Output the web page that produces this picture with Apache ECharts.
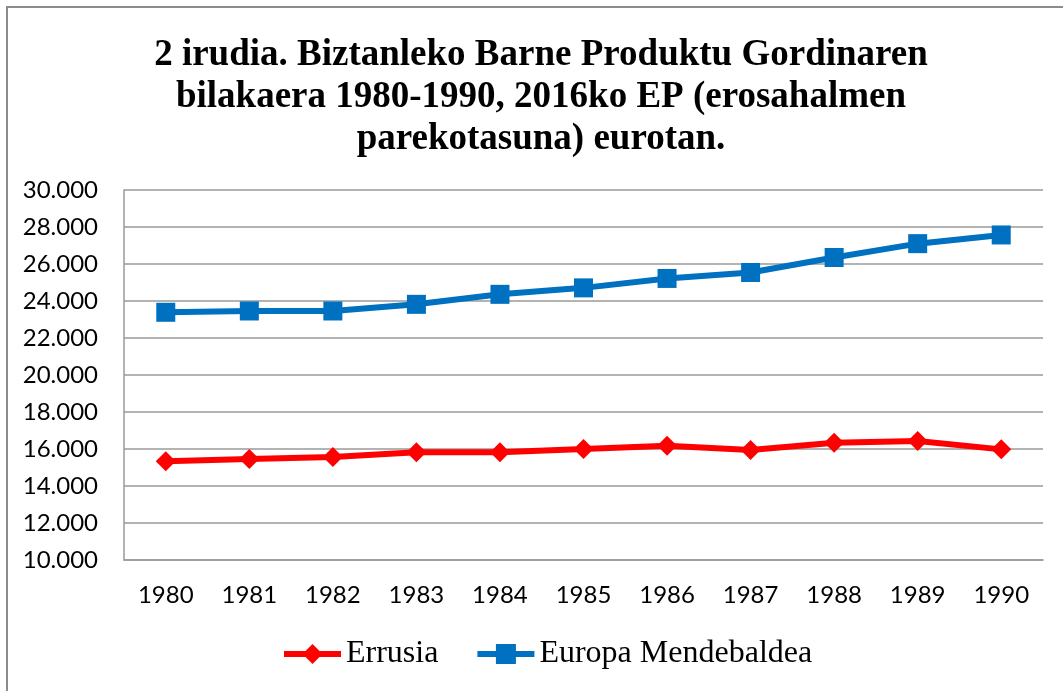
<!DOCTYPE html>
<html>
<head>
<meta charset="utf-8">
<script src="https://cdn.jsdelivr.net/npm/echarts@6/dist/echarts.min.js"></script>
<style>
html,body{margin:0;padding:0;background:#fff;}
#chart{width:1063px;height:691px;}
</style>
</head>
<body>
<div id="chart"></div>
<script>
const titleLines = [
  '2 irudia. Biztanleko Barne Produktu Gordinaren',
  'bilakaera 1980-1990, 2016ko EP (erosahalmen',
  'parekotasuna) eurotan.'
];
const years = ['1980','1981','1982','1983','1984','1985','1986','1987','1988','1989','1990'];
const errusia = [15340, 15460, 15570, 15820, 15820, 16000, 16180, 15950, 16340, 16430, 15980];
const europaMendebaldea = [23390, 23460, 23460, 23820, 24360, 24710, 25220, 25540, 26350, 27100, 27570];
const yTicks = { min: 10000, max: 30000, step: 2000 };

function fmt(v) {
  const th = Math.floor(v / 1000);
  const rest = String(Math.round(v % 1000)).padStart(3, '0');
  return th + '.' + rest;
}

const chart = echarts.init(document.getElementById('chart'), null, { renderer: 'canvas' });
chart.setOption({
  animation: false,
  backgroundColor: '#ffffff',
  graphic: [
    {
      type: 'rect',
      shape: { x: 7, y: 7, width: 1200, height: 800 },
      style: { fill: 'none', stroke: '#8c8c8c', lineWidth: 2 },
      silent: true
    },
    {
      type: 'text',
      x: 541,
      y: 97,
      style: {
        text: titleLines.join('\n'),
        font: 'bold 37px "Liberation Serif", "Times New Roman", serif',
        fill: '#000000',
        align: 'center',
        verticalAlign: 'middle',
        lineHeight: 42
      }
    }
  ],
  grid: { left: 124, right: 20, top: 190, bottom: 131, containLabel: false },
  legend: {
    left: 281,
    top: 638,
    padding: 0,
    itemGap: 36,
    itemWidth: 57,
    itemHeight: 25,
    lineStyle: { width: 6 },
    textStyle: { fontFamily: '"Liberation Serif", "Times New Roman", serif', fontSize: 32, color: '#000' },
    data: ['Errusia', 'Europa Mendebaldea']
  },
  xAxis: {
    type: 'category',
    data: years,
    boundaryGap: true,
    axisLine: { show: true, lineStyle: { color: '#9a9a9a', width: 1.5 } },
    axisTick: { show: false },
    axisLabel: { fontFamily: 'Lato, sans-serif', fontSize: 24, color: '#000', margin: 23 },
    splitLine: { show: false }
  },
  yAxis: {
    type: 'value',
    min: yTicks.min,
    max: yTicks.max,
    interval: yTicks.step,
    axisLine: { show: true, lineStyle: { color: '#9a9a9a', width: 1.5 } },
    axisTick: { show: false },
    axisLabel: { fontFamily: 'Lato, sans-serif', fontSize: 24, color: '#000', margin: 26, formatter: fmt },
    splitLine: { show: true, lineStyle: { color: '#9a9a9a', width: 1.5 } }
  },
  series: [
    {
      name: 'Errusia',
      type: 'line',
      data: errusia,
      symbol: 'diamond',
      symbolSize: 20,
      lineStyle: { color: '#ff0000', width: 6 },
      itemStyle: { color: '#ff0000' },
      z: 3
    },
    {
      name: 'Europa Mendebaldea',
      type: 'line',
      data: europaMendebaldea,
      symbol: 'rect',
      symbolSize: 19,
      lineStyle: { color: '#0070c0', width: 6 },
      itemStyle: { color: '#0070c0' },
      z: 3
    }
  ]
});
</script>
</body>
</html>
